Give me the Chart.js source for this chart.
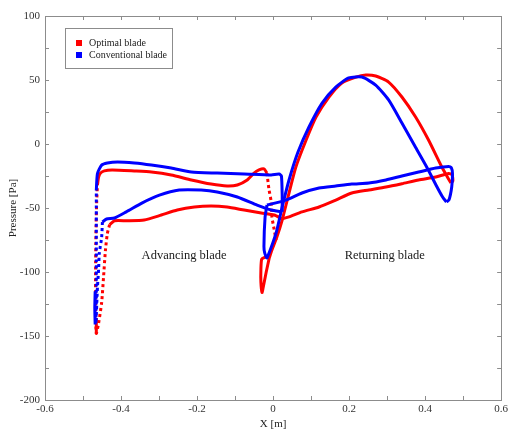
<!DOCTYPE html>
<html>
<head>
<meta charset="utf-8">
<script src="https://cdn.jsdelivr.net/npm/chart.js@4.4.1/dist/chart.umd.min.js"></script>
<style>
  html, body { margin: 0; padding: 0; background: #fff; }
</style>
</head>
<body>
<canvas id="pressureChart" width="511" height="432"></canvas>
<script>
// Pressure along the blade surfaces, [x (m), p (Pa)]
// Optimal blade (red)
const optAdvUpper = [
  [-0.462, -32], [-0.459, -26], [-0.455, -23], [-0.444, -21], [-0.423, -20.3], [-0.365, -21.1],
  [-0.32, -21.9], [-0.268, -24.2], [-0.215, -28.1], [-0.163, -31.3], [-0.121, -32.8], [-0.094, -32],
  [-0.068, -28.1], [-0.05, -22.7], [-0.037, -20.3], [-0.024, -19.5], [-0.016, -22.7]
];
const optAdvTrail = [
  [-0.016, -22.7], [-0.011, -35], [-0.005, -45], [-0.003, -57], [0.003, -67], [0.008, -75]
];
const optAdvLower = [
  [-0.43, -63], [-0.417, -60], [-0.383, -60], [-0.339, -59.4], [-0.294, -55.5], [-0.252, -51.6],
  [-0.207, -49.2], [-0.163, -48.4], [-0.121, -49.2], [-0.076, -51.6], [-0.031, -53.9], [0.003, -55.5],
  [0.024, -58.5]
];
const optTipDots = [
  [-0.43, -63], [-0.436, -70], [-0.441, -83], [-0.446, -104], [-0.451, -124], [-0.459, -140],
  [-0.465, -148], [-0.467, -130], [-0.467, -100], [-0.466, -70], [-0.464, -45], [-0.462, -32]
];
const optTipSolid = [[-0.465, -136], [-0.465, -148]];
const optRetFlat = [
  [0.024, -58.5], [0.042, -57], [0.076, -53], [0.121, -49.2], [0.165, -43.8], [0.207, -38.3],
  [0.252, -35.9], [0.297, -33.6], [0.339, -31], [0.383, -28.1], [0.428, -25.8], [0.462, -23],
  [0.471, -24], [0.473, -29], [0.468, -30.5]
];
const optRetArch = [
  [0.468, -30.5], [0.46, -26.5], [0.444, -18], [0.409, 3.1], [0.375, 21.1], [0.339, 36.7],
  [0.304, 48.4], [0.27, 53.1], [0.244, 53.9], [0.218, 52.3], [0.181, 47.7], [0.147, 36.7],
  [0.113, 21], [0.087, 3.1], [0.06, -18], [0.042, -38.3], [0.024, -59.4], [0.01, -72.7],
  [-0.003, -82.8], [-0.01, -89]
];
const optRetSpike = [
  [-0.01, -89], [-0.018, -100], [-0.026, -112], [-0.029, -116], [-0.032, -108], [-0.032, -98],
  [-0.03, -90], [-0.022, -88.5], [-0.012, -88]
];

// Conventional blade (blue)
const convAdvUpper = [
  [-0.465, -36], [-0.462, -23], [-0.451, -16.5], [-0.436, -14.8], [-0.409, -14], [-0.365, -14.8],
  [-0.32, -16.4], [-0.268, -18.8], [-0.215, -21.9], [-0.147, -22.7], [-0.076, -23.4], [-0.005, -24.2],
  [0.016, -23.5], [0.022, -25], [0.024, -40], [0.024, -53]
];
const convAdvLower = [
  [0.024, -53], [-0.005, -51.6], [-0.042, -47.7], [-0.094, -41.4], [-0.147, -37.5], [-0.189, -36],
  [-0.247, -36], [-0.299, -40], [-0.344, -46], [-0.386, -53], [-0.417, -57.8], [-0.438, -58.6],
  [-0.449, -61]
];
const convTipDots = [
  [-0.449, -61], [-0.451, -73], [-0.457, -85], [-0.459, -98], [-0.462, -112], [-0.466, -140],
  [-0.465, -120], [-0.465, -80], [-0.465, -36]
];
const convTipSolid = [[-0.468, -115], [-0.469, -128], [-0.468, -141]];
const convRetFlat = [
  [-0.016, -47.7], [0.034, -43.8], [0.076, -38.3], [0.121, -34.4], [0.165, -32.8], [0.207, -31.3],
  [0.252, -30.5], [0.297, -28.1], [0.339, -25], [0.383, -21.9], [0.428, -18.8], [0.462, -17.5],
  [0.469, -18.5], [0.472, -23], [0.47, -33.6], [0.463, -43.5], [0.456, -45.3]
];
const convRetArch = [
  [0.456, -45.3], [0.446, -41.4], [0.43, -32.8], [0.407, -19.5], [0.373, -1.6], [0.339, 16.4],
  [0.304, 34.4], [0.27, 46], [0.234, 52.3], [0.199, 51.6], [0.165, 44.5], [0.129, 32], [0.0945, 13.3],
  [0.0656, -6.3], [0.042, -28.1], [0.024, -49.2], [0.008, -69.5], [-0.016, -89], [-0.022, -85],
  [-0.024, -80], [-0.021, -57], [-0.016, -47.7]
];

const xTickValues = [-0.6, -0.4, -0.2, 0, 0.2, 0.4, 0.6];
const yTickValues = [-200, -150, -100, -50, 0, 50, 100];
const legendNames = ['Optimal blade', 'Conventional blade'];
const regionLabels = [
  { text: 'Advancing blade', x: -0.234, y: -87.5 },
  { text: 'Returning blade', x: 0.294, y: -87.5 }
];

const RED = '#ff0000';
const BLUE = '#0000ff';
const SERIF = '"Liberation Serif", "Times New Roman", serif';

function curve(points, color, dotted) {
  return {
    data: points.map(p => ({ x: p[0], y: p[1] })),
    showLine: true,
    borderColor: color,
    backgroundColor: color,
    borderWidth: 3,
    borderDash: dotted ? [3, 3] : [],
    pointRadius: 0,
    tension: 0.2
  };
}

// blue first so it is painted over the red curves
const datasets = [
  curve(convAdvUpper, BLUE), curve(convAdvLower, BLUE), curve(convTipDots, BLUE, true),
  curve(convTipSolid, BLUE), curve(convRetFlat, BLUE), curve(convRetArch, BLUE),
  curve(optAdvUpper, RED), curve(optAdvTrail, RED, true), curve(optAdvLower, RED),
  curve(optTipDots, RED, true), curve(optTipSolid, RED), curve(optRetFlat, RED),
  curve(optRetArch, RED), curve(optRetSpike, RED)
];

function onTick(list, v) {
  return list.some(t => Math.abs(t - v) < 1e-9);
}

// box around the plot with inward ticks on all four sides
const frameTicks = {
  id: 'frameTicks',
  beforeDatasetsDraw(chart) {
    const { ctx, chartArea: a, scales: { x, y } } = chart;
    ctx.save();
    ctx.strokeStyle = '#8c8c8c';
    ctx.lineWidth = 1;
    ctx.beginPath();
    x.ticks.forEach(t => {
      const px = Math.round(x.getPixelForValue(t.value)) + 0.5;
      ctx.moveTo(px, a.bottom); ctx.lineTo(px, a.bottom - 4);
      ctx.moveTo(px, a.top); ctx.lineTo(px, a.top + 4);
    });
    y.ticks.forEach(t => {
      const py = Math.round(y.getPixelForValue(t.value)) + 0.5;
      ctx.moveTo(a.left, py); ctx.lineTo(a.left + 4, py);
      ctx.moveTo(a.right, py); ctx.lineTo(a.right - 4, py);
    });
    ctx.stroke();
    ctx.strokeRect(Math.round(a.left) + 0.5, Math.round(a.top) + 0.5,
      Math.round(a.width), Math.round(a.height));
    ctx.restore();
  }
};

// boxed legend in the upper left corner and the two region labels
const notes = {
  id: 'notes',
  afterDraw(chart) {
    const { ctx, chartArea: a, scales: { x, y } } = chart;
    ctx.save();
    const bx = a.left + 20, by = a.top + 12;
    ctx.fillStyle = '#fff';
    ctx.fillRect(bx, by, 107, 40);
    ctx.strokeStyle = '#8c8c8c';
    ctx.lineWidth = 1;
    ctx.strokeRect(bx + 0.5, by + 0.5, 107, 40);
    ctx.font = '10px ' + SERIF;
    ctx.textBaseline = 'middle';
    [RED, BLUE].forEach((c, i) => {
      const cy = by + 15 + i * 12;
      ctx.fillStyle = c;
      ctx.fillRect(bx + 11, cy - 3, 6, 6);
      ctx.fillStyle = '#222';
      ctx.fillText(legendNames[i], bx + 24, cy);
    });
    ctx.font = '12.5px ' + SERIF;
    ctx.textAlign = 'center';
    ctx.fillStyle = '#1a1a1a';
    regionLabels.forEach(r => {
      ctx.fillText(r.text, x.getPixelForValue(r.x), y.getPixelForValue(r.y));
    });
    ctx.restore();
  }
};

new Chart(document.getElementById('pressureChart'), {
  type: 'scatter',
  data: { datasets },
  options: {
    responsive: false,
    animation: false,
    layout: { padding: { top: 16, right: 8, left: 0, bottom: 0 } },
    plugins: {
      legend: { display: false },
      tooltip: { enabled: false }
    },
    scales: {
      x: {
        type: 'linear',
        min: -0.6,
        max: 0.6,
        afterFit: s => { s.height = 32; },
        grid: { display: false, drawTicks: false, tickLength: 0 },
        border: { display: false },
        ticks: {
          stepSize: 0.1,
          autoSkip: false,
          maxRotation: 0,
          padding: 3,
          color: '#333',
          font: { family: SERIF, size: 11 },
          callback: v => onTick(xTickValues, v) ? String(Math.round(v * 10) / 10) : ''
        },
        title: {
          display: true,
          text: 'X [m]',
          color: '#222',
          font: { family: SERIF, size: 11 },
          padding: { top: 0, bottom: 1 }
        }
      },
      y: {
        type: 'linear',
        min: -200,
        max: 100,
        afterFit: s => { s.width = 45; },
        grid: { display: false, drawTicks: false, tickLength: 0 },
        border: { display: false },
        ticks: {
          stepSize: 25,
          autoSkip: false,
          padding: 5,
          color: '#333',
          font: { family: SERIF, size: 11 },
          callback: v => onTick(yTickValues, v) ? String(v) : ''
        },
        title: {
          display: true,
          text: 'Pressure [Pa]',
          color: '#222',
          font: { family: SERIF, size: 11 },
          padding: { top: 7, bottom: 0 }
        }
      }
    }
  },
  plugins: [frameTicks, notes]
});
</script>
</body>
</html>
